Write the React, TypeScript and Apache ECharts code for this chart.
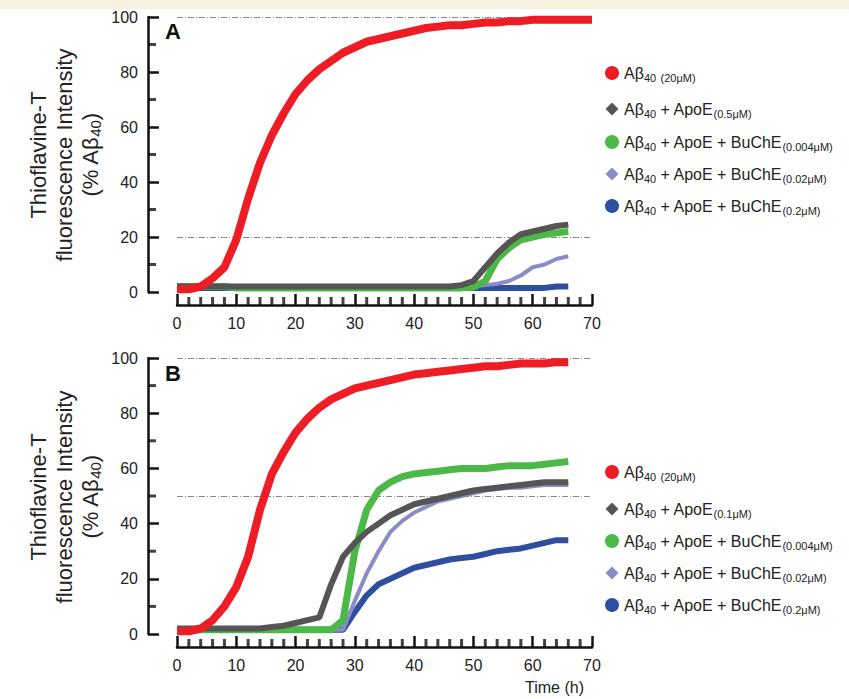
import React, { useEffect, useRef } from "react";
import * as echarts from "echarts";

const timeH = [0,2,4,6,8,10,12,14,16,18,20,22,24,26,28,30,32,34,36,38,40,42,44,46,48,50,52,54,56,58,60,62,64,66,68,70];
const xMinor = [2,4,6,8,12,14,16,18,22,24,26,28,32,34,36,38,42,44,46,48,52,54,56,58,62,64,66,68];
const yMinor = [10,30,50,70,90];

const aRed = [1,1,2,5,9,19,34,47,57,65,72,77,81,84,87,89,91,92,93,94,95,96,96.5,97,97,97.5,98,98,98.5,98.5,99,99,99,99,99,99];
const aGray = [2,2,2,2,2,2,2,2,2,2,2,2,2,2,2,2,2,2,2,2,2,2,2,2,2.5,4,9,14,18,21,22,23,24,24.5,null,null];
const aGreen = [2,2,2,2,2,1.5,1.5,1.5,1.5,1.5,1.5,1.5,1.5,1.5,1.5,1.5,1.5,1.5,1.5,1.5,1.5,1.5,1.5,1.5,1.5,1.8,4,12,16,19,20,21,21.5,22,null,null];
const aLav = [2,2,2,2,2,2,2,2,2,2,2,2,2,2,2,2,2,2,2,2,2,2,2,2,2,2,2.5,3,4,6,9,10,12,13,null,null];
const aBlue = [1.5,1.5,1.5,1.5,1.5,1.5,1.5,1.5,1.5,1.5,1.5,1.5,1.5,1.5,1.5,1.5,1.5,1.5,1.5,1.5,1.5,1.5,1.5,1.5,1.5,1.5,1.5,1.5,1.5,1.5,1.5,1.5,2,2,null,null];

const bRed = [1,1,2,5,10,17,28,45,58,66,73,78,82,85,87,89,90,91,92,93,94,94.5,95,95.5,96,96.5,97,97,97.5,98,98,98,98.5,98.5,null,null];
const bGray = [2,2,2,2,2,2,2,2,2.5,3,4,5,6,18,28,33,37,40,43,45,47,48,49,50,51,52,52.5,53,53.5,54,54.5,55,55,55,null,null];
const bGreen = [1.5,1.5,1.5,1.5,1.5,1.5,1.5,1.5,1.5,1.5,1.5,1.5,1.5,1.5,5,30,45,52,55,57,58,58.5,59,59.5,60,60,60,60.5,61,61,61,61.5,62,62.5,null,null];
const bLav = [1.5,1.5,1.5,1.5,1.5,1.5,1.5,1.5,1.5,1.5,1.5,1.5,1.5,1.5,1.5,12,22,30,37,41,44,46,48,49,50,51,52,52.5,53,53,53.5,54,54,54,null,null];
const bBlue = [1.5,1.5,1.5,1.5,1.5,1.5,1.5,1.5,1.5,1.5,1.5,1.5,1.5,1.5,1.5,8,14,18,20,22,24,25,26,27,27.5,28,29,30,30.5,31,32,33,34,34,null,null];

const colors = ["#ee1c25", "#555555", "#4cb848", "#8b8cc7", "#2e4fa0"];
const widths = [8, 6, 7, 4, 6];
const legendA = ["Aβ{s|40} {s|(20μM)}", "Aβ{s|40} + ApoE{s|(0.5μM)}", "Aβ{s|40} + ApoE + BuChE{s|(0.004μM)}", "Aβ{s|40} + ApoE + BuChE{s|(0.02μM)}", "Aβ{s|40} + ApoE + BuChE{s|(0.2μM)}"];
const legendB = ["Aβ{s|40} {s|(20μM)}", "Aβ{s|40} + ApoE{s|(0.1μM)}", "Aβ{s|40} + ApoE + BuChE{s|(0.004μM)}", "Aβ{s|40} + ApoE + BuChE{s|(0.02μM)}", "Aβ{s|40} + ApoE + BuChE{s|(0.2μM)}"];
const shapes = ["circle", "diamond", "circle", "diamond", "circle"];

const FONT = "Liberation Sans";

export default function App() {
  const ref = useRef<HTMLDivElement>(null);
  useEffect(() => {
    const chart = echarts.init(ref.current!, null, { renderer: "svg" });
    const grids = [
      { left: 177, width: 415, top: 17, height: 275 },
      { left: 177, width: 415, top: 358, height: 276 },
    ];
    const mkX = (i: number) => ({
      type: "value", gridIndex: i, min: 0, max: 70, interval: 10, offset: 13,
      axisLine: { onZero: false, lineStyle: { color: "#111", width: 2.5 } },
      axisTick: { inside: true, length: 11, lineStyle: { color: "#111", width: 2.5 } },
      splitLine: { show: false },
      axisLabel: { color: "#222", fontSize: 16, fontFamily: FONT, margin: 10 },
    });
    const mkY = (i: number) => ({
      type: "value", gridIndex: i, min: 0, max: 100, interval: 20, offset: 29,
      axisLine: { show: true, onZero: false, lineStyle: { color: "#111", width: 2.5 } },
      axisTick: { show: true, inside: true, length: 11, lineStyle: { color: "#111", width: 2.5 } },
      splitLine: { show: false },
      axisLabel: { color: "#222", fontSize: 16, fontFamily: FONT, margin: 10 },
    });
    const panels = [[aRed, aGray, aGreen, aLav, aBlue], [bRed, bGray, bGreen, bLav, bBlue]];
    const refLines = [[100, 20], [100, 50]];
    const series: any[] = [];
    panels.forEach((p, gi) => {
      [4, 3, 2, 1, 0].forEach((k, idx) => {
        series.push({
          type: "line", xAxisIndex: gi, yAxisIndex: gi, showSymbol: false, z: 2 + (5 - k),
          data: timeH.map((t, j) => [t, p[k][j]]).filter((d) => d[1] !== null),
          lineStyle: { color: colors[k], width: widths[k] }, itemStyle: { color: colors[k] },
          markLine: idx === 0 ? {
            silent: true, symbol: "none", label: { show: false },
            lineStyle: { color: "#888", type: [6, 2, 1, 2], width: 1 },
            data: refLines[gi].map((v) => ({ yAxis: v })),
          } : undefined,
        });
      });
      series.push({
        type: "scatter", xAxisIndex: gi, yAxisIndex: gi, clip: false, silent: true, z: 20,
        symbol: "rect", symbolSize: [3, 8], symbolOffset: [0, 9],
        itemStyle: { color: "#111" }, data: xMinor.map((v) => [v, 0]),
      });
      series.push({
        type: "scatter", xAxisIndex: gi, yAxisIndex: gi, clip: false, silent: true, z: 20,
        symbol: "rect", symbolSize: [8, 3], symbolOffset: [-25, 0],
        itemStyle: { color: "#111" }, data: yMinor.map((v) => [0, v]),
      });
    });
    const rich = { s: { fontSize: 11, fontFamily: FONT, verticalAlign: "bottom", padding: [9, 0, 0, 0], color: "#222" } };
    const graphics: any[] = [{ type: "rect", shape: { x: 0, y: 0, width: 849, height: 9 }, style: { fill: "#f6f1e1" } }];
    const legendYs = [[73, 109, 142, 174, 206], [472, 509, 541, 573, 605]];
    [legendA, legendB].forEach((L, gi) => {
      L.forEach((txt, i) => {
        const y = legendYs[gi][i];
        if (shapes[i] === "circle") graphics.push({ type: "circle", shape: { cx: 612, cy: y, r: 7 }, style: { fill: colors[i] } });
        else graphics.push({ type: "polygon", shape: { points: [[612, y - 6.5], [618.5, y], [612, y + 6.5], [605.5, y]] }, style: { fill: colors[i] } });
        graphics.push({ type: "text", x: 624, y: y, style: { text: txt, rich, fontSize: 16, fontFamily: FONT, fill: "#222", verticalAlign: "middle" } });
      });
    });
    const yName = "Thioflavine-T\nfluorescence Intensity\n(% Aβ{s|40})";
    [155, 497].forEach((cy) => {
      graphics.push({ type: "text", x: 64, y: cy, rotation: Math.PI / 2, style: { text: yName, rich: { s: { fontSize: 15, fontFamily: FONT, verticalAlign: "bottom", padding: [11, 0, 0, 0], fill: "#222" } }, fontSize: 22, lineHeight: 26, fontFamily: FONT, fill: "#222", align: "center", verticalAlign: "middle" } });
    });
    graphics.push({ type: "text", x: 165, y: 20, style: { text: "A", fontSize: 22, fontWeight: "bold", fontFamily: FONT, fill: "#111" } });
    graphics.push({ type: "text", x: 165, y: 362, style: { text: "B", fontSize: 22, fontWeight: "bold", fontFamily: FONT, fill: "#111" } });
    graphics.push({ type: "text", x: 525, y: 679, style: { text: "Time (h)", fontSize: 16, fontFamily: FONT, fill: "#222" } });
    chart.setOption({
      animation: false,
      backgroundColor: "#fff",
      grid: grids,
      xAxis: [mkX(0), mkX(1)],
      yAxis: [mkY(0), mkY(1)],
      series,
      graphic: graphics,
    });
    return () => chart.dispose();
  }, []);
  return <div ref={ref} style={{ position: "absolute", left: 0, top: 0, width: 849, height: 699 }} />;
}
